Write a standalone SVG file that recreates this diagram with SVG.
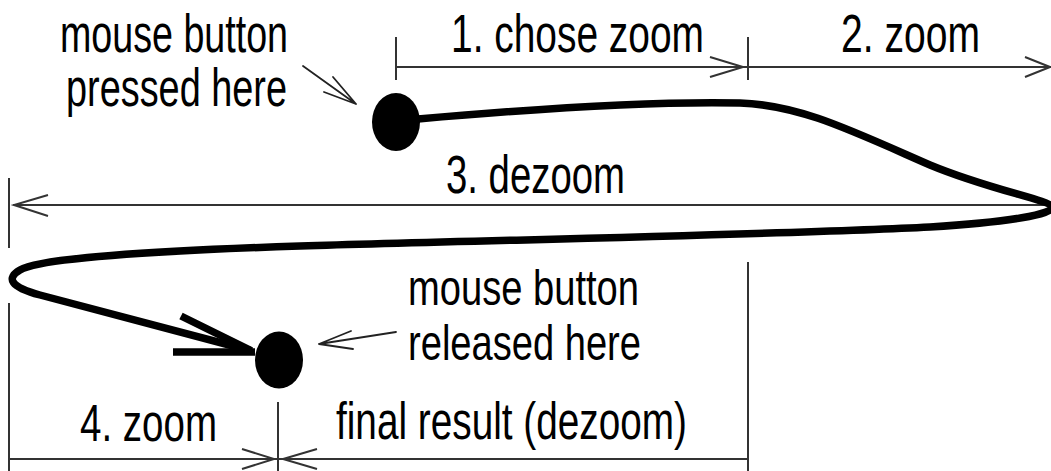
<svg xmlns="http://www.w3.org/2000/svg" width="1051" height="471" viewBox="0 0 1051 471">
<style>
.t{font-family:"Liberation Sans",Arial,Helvetica,sans-serif;fill:#000}
.thin{stroke:#333;stroke-width:2;fill:none}
.ptr{stroke:#222;stroke-width:1.8;fill:none;stroke-linecap:round}
.thick{stroke:#000;stroke-width:7.5;fill:none;stroke-linecap:butt;stroke-linejoin:round}
.dot{fill:#000}
</style>
<rect width="1051" height="471" fill="#fff"/>
<g id="connectors">
  <path class="thin" d="M396,37V80 M748,37V80 M396,67H1051 M710,57L743,67L710,77 M1025,57L1050,67L1025,77"/>
  <path class="thin" d="M9,178V248 M13,205H1051 M48,195L14,205L48,216"/>
  <path class="thin" d="M9,303V471 M278,402V471 M748,262V471 M9,459H748 M242,449L274,459L242,469 M317,449L283,459L317,469"/>
  <path class="ptr" d="M303,66L356,104 M333,77L356,104 M324,92L356,104"/>
  <path class="ptr" d="M396,332L319,344 M351,331L319,344 M353,349L319,344"/>
  <path id="mouse-path" class="thick" d="M418,119 C520,110 650,101 740,103 C800,105 850,130 930,165 C990,190 1050,200 1052,207 C1054,214 1010,222 930,227 C800,234 500,240 300,246 C150,251 40,258 20,270 C6,278 10,287 40,295 L252,351"/>
  <path class="thick" d="M181,316L250,350 M173,352H255"/>
</g>
<g id="press-dot"><ellipse class="dot" cx="396" cy="122" rx="24" ry="29"/></g>
<g id="release-dot"><ellipse class="dot" cx="279" cy="360" rx="24" ry="28.5"/></g>
<g id="label-pressed">
  <text class="t" x="60" y="52" font-size="54" textLength="228" lengthAdjust="spacingAndGlyphs">mouse button</text>
  <text class="t" x="66" y="106" font-size="54" textLength="221" lengthAdjust="spacingAndGlyphs">pressed here</text>
</g>
<g id="label-1"><text class="t" x="451" y="52" font-size="54" textLength="253" lengthAdjust="spacingAndGlyphs">1. chose zoom</text></g>
<g id="label-2"><text class="t" x="841" y="52" font-size="54" textLength="139" lengthAdjust="spacingAndGlyphs">2. zoom</text></g>
<g id="label-3"><text class="t" x="446" y="193" font-size="54" textLength="179" lengthAdjust="spacingAndGlyphs">3. dezoom</text></g>
<g id="label-released">
  <text class="t" x="408" y="305" font-size="50" textLength="231" lengthAdjust="spacingAndGlyphs">mouse button</text>
  <text class="t" x="408" y="360" font-size="50" textLength="233" lengthAdjust="spacingAndGlyphs">released here</text>
</g>
<g id="label-4"><text class="t" x="80" y="441" font-size="51" textLength="137" lengthAdjust="spacingAndGlyphs">4. zoom</text></g>
<g id="label-final"><text class="t" x="336" y="439" font-size="51" textLength="351" lengthAdjust="spacingAndGlyphs">final result (dezoom)</text></g>
</svg>
